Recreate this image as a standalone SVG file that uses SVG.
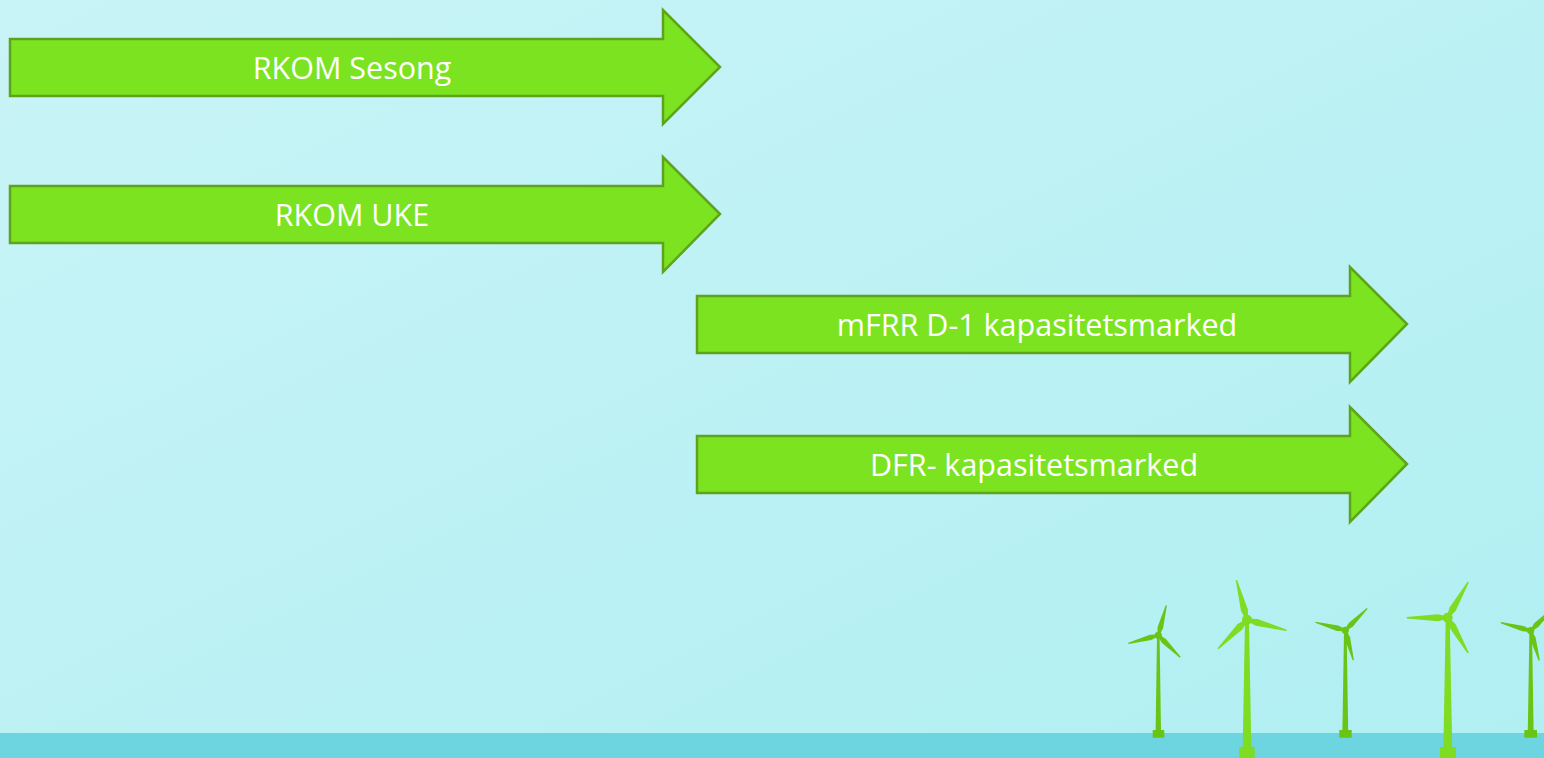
<svg xmlns="http://www.w3.org/2000/svg" width="1544" height="758" viewBox="0 0 1544 758">
  <defs>
    <linearGradient id="bg" x1="0" y1="0" x2="1" y2="1">
      <stop offset="0" stop-color="#c9f4f7"/>
      <stop offset="1" stop-color="#b0eff2"/>
    </linearGradient>
    <path id="bladeS" d="M-1,0 L-2.8,-8 L-0.6,-31 L0.6,-31 L2.8,-8 L1,0 Z"/>
    <path id="bladeL" d="M-1.2,0 L-3.5,-10 L-0.7,-41 L0.7,-41 L3.5,-10 L1.2,0 Z"/>
  </defs>
  <style>
    .arrow { fill: #7ce321; stroke: #5ea41a; stroke-width: 2.5; stroke-linejoin: miter; }
    .label { font-family: "Open Sans", "Liberation Sans", sans-serif; font-size: 30.5px; fill: #ffffff; text-anchor: middle; }
    .small { fill: #68c516; }
    .large { fill: #7edc22; }
  </style>

  <rect x="0" y="0" width="1544" height="758" fill="url(#bg)"/>
  <rect x="0" y="733" width="1544" height="25" fill="#6dd5df"/>

  <g id="node-rkom-sesong">
    <path class="arrow" d="M10,39 H663 V10 L720,67 L663,124 V96 H10 Z"/>
    <text class="label" x="352" y="79">RKOM Sesong</text>
  </g>
  <g id="node-rkom-uke">
    <path class="arrow" d="M10,186 H663 V157 L720,214 L663,272 V243 H10 Z"/>
    <text class="label" x="352" y="226">RKOM UKE</text>
  </g>
  <g id="node-mfrr">
    <path class="arrow" d="M697,296 H1350 V267 L1407,324 L1350,382 V353 H697 Z"/>
    <text class="label" x="1037" y="336">mFRR D-1 kapasitetsmarked</text>
  </g>
  <g id="node-dfr">
    <path class="arrow" d="M697,436 H1350 V407 L1407,464 L1350,522 V493 H697 Z"/>
    <text class="label" x="1034" y="476">DFR- kapasitetsmarked</text>
  </g>

  <g id="connectors"></g>

  <g id="turbines">
    <g id="turbine-1" class="small">
      <polygon points="1157,636 1159.6,636 1161,731 1155.6,731"/>
      <rect x="1152.7" y="730" width="11.6" height="7.7"/>
      <use href="#bladeS" transform="translate(1158.3,635.3) rotate(15)"/>
      <use href="#bladeS" transform="translate(1158.3,635.3) rotate(135)"/>
      <use href="#bladeS" transform="translate(1158.3,635.3) rotate(255)"/>
      <circle cx="1158.3" cy="635.3" r="3.6"/>
    </g>
    <g id="turbine-2" class="large">
      <polygon points="1245,620 1249,620 1251.3,748 1242.7,748"/>
      <rect x="1239.3" y="747" width="15.4" height="11"/>
      <use href="#bladeL" transform="translate(1247,619.7) rotate(-15)"/>
      <use href="#bladeL" transform="translate(1247,619.7) rotate(105)"/>
      <use href="#bladeL" transform="translate(1247,619.7) rotate(225)"/>
      <circle cx="1247" cy="619.7" r="5"/>
    </g>
    <g id="turbine-3" class="small">
      <polygon points="1344,631 1346.6,631 1348.2,731 1342.4,731"/>
      <rect x="1339.3" y="730" width="12.4" height="7.7"/>
      <use href="#bladeS" transform="translate(1345.3,630.3) rotate(45)"/>
      <use href="#bladeS" transform="translate(1345.3,630.3) rotate(165)"/>
      <use href="#bladeS" transform="translate(1345.3,630.3) rotate(285)"/>
      <circle cx="1345.3" cy="630.3" r="3.6"/>
    </g>
    <g id="turbine-4" class="large">
      <polygon points="1445.7,618 1449.7,618 1452.2,748 1443.4,748"/>
      <rect x="1440" y="747" width="16" height="11"/>
      <use href="#bladeL" transform="translate(1447.7,617.7) rotate(30)"/>
      <use href="#bladeL" transform="translate(1447.7,617.7) rotate(150)"/>
      <use href="#bladeL" transform="translate(1447.7,617.7) rotate(270)"/>
      <circle cx="1447.7" cy="617.7" r="5"/>
    </g>
    <g id="turbine-5" class="small">
      <polygon points="1529.4,631 1532,631 1533.6,731 1527.8,731"/>
      <rect x="1524.3" y="730" width="12.7" height="7.7"/>
      <use href="#bladeS" transform="translate(1530.7,630.7) rotate(45)"/>
      <use href="#bladeS" transform="translate(1530.7,630.7) rotate(164)"/>
      <use href="#bladeS" transform="translate(1530.7,630.7) rotate(285)"/>
      <circle cx="1530.7" cy="630.7" r="3.6"/>
    </g>
  </g>
</svg>
